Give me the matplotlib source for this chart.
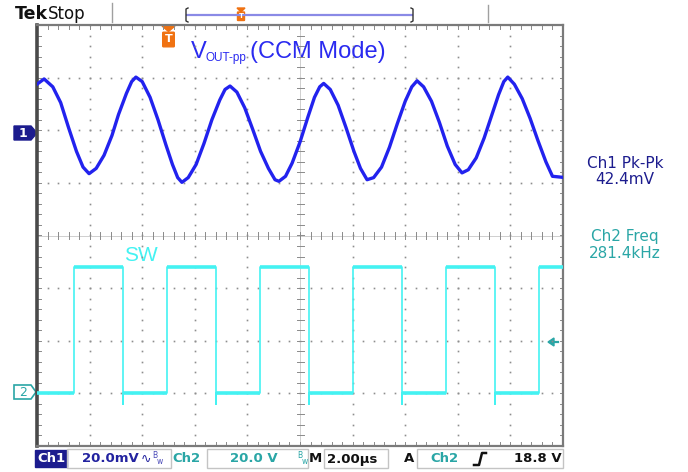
import numpy as np
import matplotlib
matplotlib.use("Agg")  # no display here
import matplotlib.pyplot as plt
from matplotlib.patches import Polygon, Rectangle, FancyBboxPatch

W, H = 688, 472

# scope settings
time_div = 2.0      # us / div
ch1_scale = 20.0    # mV / div
ch2_scale = 20.0    # V / div
ch1_pos = 2.0       # div, marker "1"
ch2_pos = -3.0      # div, marker "2"

# Ch1 output ripple (time in us, mV about the marker)
ch1_t = [-10.0, -9.73, -9.4, -9.1, -8.8, -8.5, -8.25, -8.02, -7.75, -7.45,
         -7.15, -6.9, -6.6, -6.4, -6.24, -6.0, -5.7, -5.4, -5.1, -4.85,
         -4.65, -4.49, -4.25, -3.95, -3.65, -3.35, -3.05, -2.85, -2.66, -2.4,
         -2.1, -1.8, -1.5, -1.2, -0.95, -0.8, -0.55, -0.3, 0.0, 0.3,
         0.55, 0.75, 0.9, 1.15, 1.45, 1.75, 2.05, 2.3, 2.55, 2.8,
         3.1, 3.4, 3.7, 4.0, 4.25, 4.45, 4.7, 5.0, 5.3, 5.6,
         5.9, 6.16, 6.4, 6.7, 7.0, 7.3, 7.55, 7.75, 7.9, 8.15,
         8.45, 8.75, 9.05, 9.35, 9.6, 10.0]
ch1_mv = [17.5, 19.5, 16.5, 10.5, 1.0, -8.0, -14.0, -16.5, -14.5, -9.5,
          -2.0, 6.0, 14.0, 18.5, 20.2, 18.5, 12.5, 4.0, -5.5, -13.0,
          -18.0, -19.8, -18.0, -13.0, -5.0, 4.0, 11.5, 15.5, 16.8, 14.5,
          8.5, 0.4, -8.0, -14.5, -18.8, -19.4, -17.5, -12.5, -4.5, 5.0,
          12.5, 16.5, 17.8, 15.5, 9.5, 1.0, -8.0, -14.5, -18.8, -18.0,
          -14.0, -6.5, 2.5, 11.0, 16.5, 18.8, 16.5, 11.0, 3.0, -6.0,
          -13.0, -16.2, -15.0, -10.5, -3.0, 6.0, 13.5, 18.5, 20.2, 17.5,
          12.0, 4.5, -4.0, -12.0, -17.5, -17.9]

# Ch2 switch node: edge times (us) and levels (V)
sw_rise = [-8.59, -5.06, -1.52, 2.02, 5.55, 9.09]
sw_fall = [-6.73, -3.19, 0.34, 3.88, 7.41]
sw_high = 48.0
sw_low = 0.0
sw_undershoot = -4.0

# readouts
vout_label = ("V", "OUT-pp", "(CCM Mode)")
meas1 = ["Ch1 Pk-Pk", "42.4mV"]
meas2 = ["Ch2 Freq", "281.4kHz"]

BLUE = "#2222ee"
CYAN = "#44f2f2"
NAVY = "#1c1c8e"
TEAL = "#2aa6a6"
ORANGE = "#f07212"
GRID = "#8e8e8e"

fig = plt.figure(figsize=(W / 100, H / 100), dpi=100)
fig.set_facecolor("white")

# pixel overlay for the screen furniture
bg = fig.add_axes([0, 0, 1, 1], zorder=0)
bg.set_xlim(0, W)
bg.set_ylim(H, 0)
bg.axis("off")

# scope graticule axes
L, R, T, B = 37, 563, 25, 446
ax = fig.add_axes([L / W, (H - B) / H, (R - L) / W, (B - T) / H], zorder=1)
ax.set_facecolor("none")
ax.set_xlim(-5, 5)
ax.set_ylim(-4, 4)
ax.set_xticks([])
ax.set_yticks([])
for s in ["top", "right", "bottom"]:
    ax.spines[s].set_color("#7a7a7a")
    ax.spines[s].set_linewidth(1.6)
ax.spines["left"].set_color("#4a4a4a")
ax.spines["left"].set_linewidth(2.6)

# dotted grid
fine_y = np.arange(-4, 4.01, 0.2)
fine_x = np.arange(-5, 5.01, 0.2)
for gx in range(-4, 5):
    if gx == 0:
        continue
    ax.plot(np.full_like(fine_y, gx), fine_y, ls="none", marker="s", ms=1.2,
            color=GRID, mew=0)
for gy in range(-3, 4):
    if gy == 0:
        continue
    ax.plot(fine_x, np.full_like(fine_x, gy), ls="none", marker="s", ms=1.2,
            color=GRID, mew=0)

# centre lines with small ticks
tx = 3.5 / 52.6
ty = 3.5 / 52.5
ax.axhline(0, color="#c8c8c8", lw=0.6)
ax.axvline(0, color="#c8c8c8", lw=0.6)
for x in fine_x:
    ax.plot([x, x], [-ty, ty], color="#8a8a8a", lw=0.7)
    ax.plot([x, x], [4, 4 - ty], color="#8a8a8a", lw=0.7)
    ax.plot([x, x], [-4, -4 + ty], color="#8a8a8a", lw=0.7)
for y in fine_y:
    ax.plot([-tx, tx], [y, y], color="#8a8a8a", lw=0.7)
    ax.plot([-5, -5 + tx], [y, y], color="#8a8a8a", lw=0.7)
    ax.plot([5, 5 - tx], [y, y], color="#8a8a8a", lw=0.7)

# Ch1 trace
x1 = np.array(ch1_t) / time_div
y1 = ch1_pos + np.array(ch1_mv) / ch1_scale
ax.plot(x1, y1, color=BLUE, lw=2.4, solid_joinstyle="round", zorder=5)

# Ch2 trace built from the edge list
edges = sorted([(t, "r") for t in sw_rise] + [(t, "f") for t in sw_fall])
st, sv = [-10.0], [sw_low]
level = sw_low
seg_start = -10.0
flat = []
for t, kind in edges:
    flat.append((seg_start, t, level))
    if kind == "r":
        st += [t, t]
        sv += [level, sw_high]
        level = sw_high
    else:
        st += [t, t, t]
        sv += [level, sw_undershoot, sw_low]
        level = sw_low
    seg_start = t
st.append(10.0)
sv.append(level)
flat.append((seg_start, 10.0, level))
x2 = np.array(st) / time_div
y2 = ch2_pos + np.array(sv) / ch2_scale
ax.plot(x2, y2, color=CYAN, lw=1.2, zorder=4)
for a, b, lv in flat:
    ax.plot([a / time_div, b / time_div], [ch2_pos + lv / ch2_scale] * 2,
            color=CYAN, lw=2.6, solid_capstyle="butt", zorder=4)

# ---- screen furniture in pixel coords ----
bg.text(15, 14, "Tek", fontsize=12.5, fontweight="bold", va="center",
        ha="left", color="#111111")
bg.text(48, 14, "Stop", fontsize=12, va="center", ha="left", color="#111111")
bg.plot([112, 112], [3, 22], color="#a0a0a0", lw=1)
bg.plot([488, 488], [5, 22], color="#a0a0a0", lw=1)

# record window bar
bg.plot([187, 412], [15, 15], color="#8a8ae6", lw=1.6)
bg.plot([188, 186, 186, 188], [8, 9, 21, 22], color="#333333", lw=1)
bg.plot([411, 413, 413, 411], [8, 9, 21, 22], color="#333333", lw=1)
bg.add_patch(Polygon([[237, 8], [245, 8], [241, 12]], color=ORANGE))
bg.add_patch(FancyBboxPatch((238, 12.5), 6, 7.5, boxstyle="round,pad=0.5",
                            color=ORANGE))
bg.text(241, 16.5, "T", fontsize=5, color="white", ha="center", va="center",
        fontweight="bold")

# trigger position marker
bg.add_patch(Polygon([[162, 26], [175, 26], [168.5, 31.5]], color=ORANGE,
                     zorder=3))
bg.add_patch(FancyBboxPatch((163.5, 33), 10, 13, boxstyle="round,pad=0.8",
                            color=ORANGE, zorder=3))
bg.text(168.5, 39.5, "T", fontsize=8, color="white", ha="center",
        va="center", fontweight="bold", zorder=4)

# channel markers
bg.add_patch(Polygon([[14, 126], [31, 126], [37, 133], [31, 140], [14, 140]],
                     color=NAVY))
bg.text(23, 133.5, "1", fontsize=9, color="white", ha="center", va="center",
        fontweight="bold")
bg.add_patch(Polygon([[14, 385], [31, 385], [36, 392], [31, 399], [14, 399]],
                     facecolor="white", edgecolor=TEAL, lw=1.2))
bg.text(23, 392.5, "2", fontsize=9, color=TEAL, ha="center", va="center")

# trigger level arrow
bg.add_patch(Polygon([[548, 342], [554, 338], [554, 346]], color=TEAL,
                     zorder=3))
bg.plot([553, 558], [342, 342], color=TEAL, lw=1.6, zorder=3)

# labels
lbl = dict(family="Liberation Sans", color="#2a2af0")
bg.text(191, 58, vout_label[0], fontsize=17, va="baseline", **lbl)
bg.text(206, 61, vout_label[1], fontsize=8.5, va="baseline", **lbl)
bg.text(250, 58, vout_label[2], fontsize=17, va="baseline", **lbl)
bg.text(124, 261, "SW", fontsize=15, va="baseline", family="Liberation Sans",
        color=CYAN)

ro = dict(family="DejaVu Sans", fontsize=11, ha="center", va="center")
bg.text(625, 163, meas1[0], color=NAVY, **ro)
bg.text(625, 180, meas1[1], color=NAVY, **ro)
bg.text(625, 237, meas2[0], color=TEAL, **ro)
bg.text(625, 253, meas2[1], color=TEAL, **ro)

# bottom status bar
bar = dict(fontsize=9.5, fontweight="bold", va="center", family="DejaVu Sans")
by = 459
bg.add_patch(Rectangle((35, 450), 32, 17, color=NAVY))
bg.text(51, by, "Ch1", color="white", ha="center", **bar)
bg.add_patch(Rectangle((67, 449), 104, 19, fill=False, ec="#c4c4c4", lw=1))
bg.text(82, by, "20.0mV", color="#2323a0", ha="left", **bar)
bg.text(141, by, "\u223f", color="#2323a0", ha="left", fontsize=9,
        va="center")
bg.text(152, 456, "B", color="#4a4ab8", ha="left", fontsize=5.5, va="center")
bg.text(157, 462, "w", color="#4a4ab8", ha="left", fontsize=5.5, va="center")
bg.text(172, by, "Ch2", color=TEAL, ha="left", **bar)
bg.add_patch(Rectangle((207, 449), 101, 19, fill=False, ec="#c4c4c4", lw=1))
bg.text(230, by, "20.0 V", color=TEAL, ha="left", **bar)
bg.text(297, 456, "B", color=TEAL, ha="left", fontsize=5.5, va="center")
bg.text(302, 462, "w", color=TEAL, ha="left", fontsize=5.5, va="center")
bg.text(309, by, "M", color="#111111", ha="left", **bar)
bg.add_patch(Rectangle((324, 449), 64, 19, fill=False, ec="#c4c4c4", lw=1))
bg.text(327, by, "2.00\u00b5s", color="#111111", ha="left", **bar)
bg.text(404, by, "A", color="#111111", ha="left", **bar)
bg.add_patch(Rectangle((417, 449), 146, 19, fill=False, ec="#c4c4c4", lw=1))
bg.text(430, by, "Ch2", color=TEAL, ha="left", **bar)
bg.plot([474, 479, 482, 486], [465, 465, 453, 453], color="#111111", lw=1.8)
bg.text(562, by, "18.8 V", color="#111111", ha="right", **bar)

fig.savefig("out.png", dpi=100, facecolor=fig.get_facecolor())
